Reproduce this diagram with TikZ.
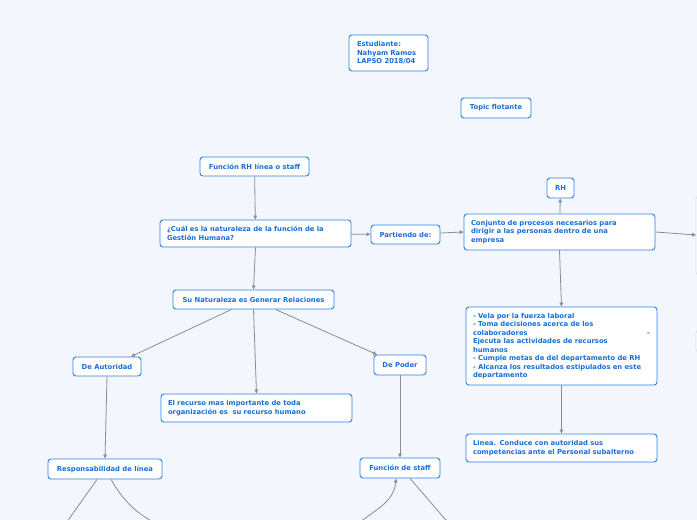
\documentclass[tikz,border=0pt]{standalone}
\usepackage{fontspec}
\setmainfont{DejaVu Sans}
\usetikzlibrary{arrows.meta,positioning}
\definecolor{canvas}{HTML}{F3F6FD}
\definecolor{boxline}{HTML}{2B83E6}
\definecolor{boxtext}{HTML}{1A6ED8}
\definecolor{linkgray}{HTML}{8A8D93}
\definecolor{paleline}{HTML}{DCE3F3}

\begin{document}
\begin{tikzpicture}[x=1pt,y=-1pt,
  topic/.style={draw=boxline,line width=0.9pt,fill=white,rounded corners=3pt,
    font=\fontsize{6.8}{8.5}\selectfont\bfseries,text=boxtext,inner xsep=8pt,inner ysep=2pt},
  multi/.style={topic,align=left,text width=#1},
  link/.style={linkgray,line width=0.8pt,-{Triangle[length=4pt,width=3.6pt]}},
  plain/.style={linkgray,line width=0.8pt}]
  % canvas
  \fill[canvas] (0,0) rectangle (697,520);
  \useasboundingbox (0,0) rectangle (697,520);

  % upper notes
  \node[multi=63pt,minimum width=79pt,minimum height=36pt] (est) at (388.5,53) {Estudiante:\\Nahyam Ramos\\LAPSO 2018/04};
  \node[topic,minimum width=70pt,minimum height=20pt,inner xsep=4pt] (flot) at (496,108) {Topic flotante};

  % main branch
  \node[topic,minimum width=109pt,minimum height=19pt,inner xsep=4pt] (funcrh) at (254.5,166.5) {Función RH línea o staff};
  \node[multi=177pt,minimum width=191pt,minimum height=27pt,inner xsep=7pt] (cual) at (255.5,233.5) {¿Cuál es la naturaleza de la función de la\\Gestión Humana?};
  \node[topic,minimum width=69pt,minimum height=19pt,inner xsep=4pt] (part) at (405.5,234.5) {Partiendo de:};
  \node[multi=177pt,minimum width=191pt,minimum height=36pt,inner xsep=7pt] (conj) at (559.5,232) {Conjunto de procesos necesarios para\\dirigir a las personas dentro de una\\empresa};
  \node[topic,minimum width=27pt,minimum height=20pt,inner xsep=3pt] (rh) at (560.5,188) {RH};
  \node[multi=177pt,minimum width=191pt,minimum height=78pt,inner xsep=7pt] (vela) at (561.5,346) {- Vela por la fuerza laboral\\- Toma decisiones acerca de los\\colaboradores\hfill -\\Ejecuta las actividades de recursos\\humanos\\- Cumple metas de del departamento de RH\\- Alcanza los resultados estipulados en este\\departamento};
  \node[multi=177pt,minimum width=191pt,minimum height=28pt,inner xsep=7pt] (linea) at (561.5,448) {Linea. Conduce con autoridad sus\\competencias ante el Personal subalterno};

  % off-canvas topics at right
  \draw[paleline,line width=0.9pt,fill=white,rounded corners=3pt] (696,196) rectangle (760,275);
  \draw[paleline,line width=0.9pt,fill=white,rounded corners=3pt] (696,330) rectangle (760,352);
  \coordinate (offr) at (696,235);

  % left branch
  \node[topic,minimum width=161pt,minimum height=19pt,inner xsep=4pt] (nat) at (253.5,299.5) {Su Naturaleza es Generar Relaciones};
  \node[topic,minimum width=68pt,minimum height=19pt,inner xsep=4pt] (aut) at (107,366.5) {De Autoridad};
  \node[topic,minimum width=52pt,minimum height=20pt,inner xsep=4pt] (poder) at (400,365) {De Poder};
  \node[multi=177pt,minimum width=191pt,minimum height=28pt,inner xsep=7pt] (recurso) at (256.5,408) {El recurso mas importante de toda\\organización es\ \ su recurso humano};
  \node[topic,minimum width=114pt,minimum height=20pt,inner xsep=4pt] (resp) at (105,469) {Responsabilidad de línea};
  \node[topic,minimum width=80pt,minimum height=20pt,inner xsep=4pt] (staff) at (400,468) {Función de staff};

  % off-canvas ends
  \coordinate (down1) at (64,526);
  \coordinate (down2) at (165,528);
  \coordinate (down3) at (355,526);
  \coordinate (down4) at (451,526);

  % connectors
  \draw[link] (funcrh) -- (cual);
  \draw[link] (cual) -- (part);
  \draw[link] (part) -- (conj.west);
  \draw[link] (conj) -- (rh);
  \draw[link] (conj.east) -- (offr);
  \draw[link] (conj.south) -- (vela.north);
  \draw[link] (vela.south) -- (linea.north);
  \draw[link] (cual.south) -- (nat.north);
  \draw[link] ([xshift=-22pt]nat.south) -- ([xshift=24pt]aut.north);
  \draw[link] (nat.south) -- (recurso.north);
  \draw[link] ([xshift=22pt]nat.south) -- ([xshift=-23pt]poder.north);
  \draw[link] (aut.south) -- (resp.north);
  \draw[link] (poder.south) -- (staff.north);
  \draw[plain] ([xshift=-8pt]resp.south) -- (down1);
  \draw[plain] ([xshift=6pt]resp.south) to[out=-60,in=155] (down2);
  \draw[link] (down3) to[out=40,in=-95] ([xshift=-4pt]staff.south);
  \draw[plain] ([xshift=10pt]staff.south) -- (down4);
\end{tikzpicture}
\end{document}
